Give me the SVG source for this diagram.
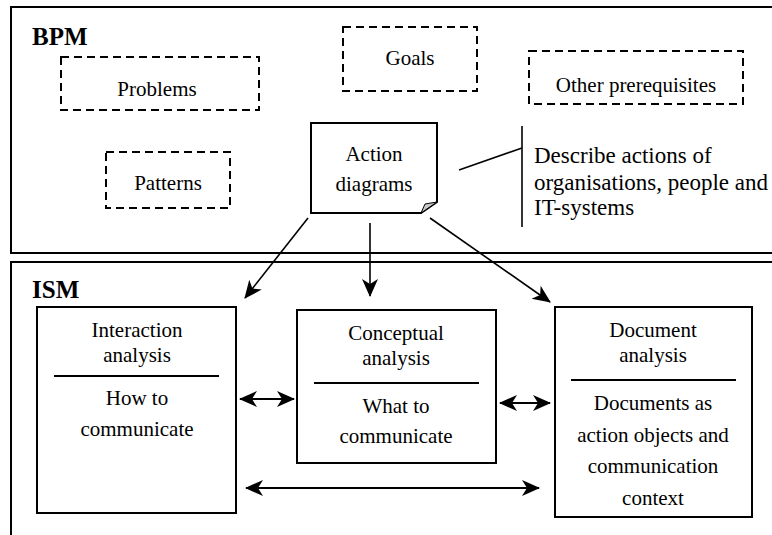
<svg xmlns="http://www.w3.org/2000/svg" width="772" height="535" viewBox="0 0 772 535">
<style>
text{font-family:"Liberation Serif","Times New Roman",serif;font-size:21px;fill:#000;text-anchor:middle}
.title{font-weight:bold;font-size:25px;text-anchor:start}
.desc{text-anchor:start;font-size:23px}
.frame{fill:none;stroke:#000;stroke-width:2}
.box{fill:#fff;stroke:#000;stroke-width:2}
.dash{fill:#fff;stroke:#000;stroke-width:2;stroke-dasharray:8 5}
.conn{fill:none;stroke:#000;stroke-width:1.6}
.arrow{fill:none;stroke:#000;stroke-width:2.2}
</style>
<defs>
<marker id="ah" markerUnits="userSpaceOnUse" markerWidth="20" markerHeight="18" refX="17" refY="8" orient="auto-start-reverse" viewBox="0 0 20 16">
<path d="M0,0 L18,8 L0,16 L5,8 Z" fill="#000"/>
</marker>
</defs>
<rect width="772" height="535" fill="#fff"/>
<g id="bpm-frame">
<rect class="frame" x="11" y="7" width="780" height="246"/>
<text class="title" x="32" y="45">BPM</text>
</g>
<g id="ism-frame">
<rect class="frame" x="11" y="262" width="780" height="300"/>
<text class="title" x="32" y="298">ISM</text>
</g>
<g id="problems">
<rect class="dash" x="61" y="57" width="198" height="53"/>
<text x="157" y="96">Problems</text>
</g>
<g id="goals">
<rect class="dash" x="343" y="27" width="134" height="64"/>
<text x="410" y="65">Goals</text>
</g>
<g id="other-prerequisites">
<rect class="dash" x="529" y="51" width="214" height="53"/>
<text x="636" y="92">Other prerequisites</text>
</g>
<g id="patterns">
<rect class="dash" x="106" y="152" width="124" height="56"/>
<text x="168" y="190">Patterns</text>
</g>
<g id="action-diagrams">
<path class="box" d="M311,123 H437 V202 L421,213 H311 Z"/>
<path d="M437,202 L421,213 L425,204 Z" fill="#c8c8c8" stroke="#000" stroke-width="1"/>
<text x="374" y="161">Action</text>
<text x="374" y="191">diagrams</text>
</g>
<g id="description">
<line class="conn" x1="522" y1="126" x2="522" y2="227"/>
<text class="desc" x="534" y="163">Describe actions of</text>
<text class="desc" x="534" y="190">organisations, people and</text>
<text class="desc" x="534" y="215">IT-systems</text>
</g>
<g id="interaction-analysis">
<rect class="box" x="37" y="307" width="199" height="206"/>
<text x="137" y="337">Interaction</text>
<text x="137" y="362">analysis</text>
<line x1="54" y1="376" x2="219" y2="376" stroke="#000" stroke-width="2"/>
<text x="137" y="405">How to</text>
<text x="137" y="436">communicate</text>
</g>
<g id="conceptual-analysis">
<rect class="box" x="297" y="310" width="199" height="153"/>
<text x="396" y="340">Conceptual</text>
<text x="396" y="365">analysis</text>
<line x1="314" y1="383" x2="479" y2="383" stroke="#000" stroke-width="2"/>
<text x="396" y="413">What to</text>
<text x="396" y="443">communicate</text>
</g>
<g id="document-analysis">
<rect class="box" x="555" y="307" width="197" height="210"/>
<text x="653" y="337">Document</text>
<text x="653" y="362">analysis</text>
<line x1="571" y1="380" x2="736" y2="380" stroke="#000" stroke-width="2"/>
<text x="653" y="410">Documents as</text>
<text x="653" y="442">action objects and</text>
<text x="653" y="473">communication</text>
<text x="653" y="505">context</text>
</g>
<g id="connectors">
<line class="conn" x1="459" y1="170" x2="522" y2="148"/>
<line class="conn" x1="308" y1="218" x2="245" y2="298" marker-end="url(#ah)"/>
<line class="conn" x1="370" y1="223" x2="370" y2="296" marker-end="url(#ah)"/>
<line class="conn" x1="430" y1="218" x2="550" y2="302" marker-end="url(#ah)"/>
<line class="arrow" x1="240" y1="399" x2="294" y2="399" marker-start="url(#ah)" marker-end="url(#ah)"/>
<line class="arrow" x1="500" y1="403" x2="550" y2="403" marker-start="url(#ah)" marker-end="url(#ah)"/>
<line class="arrow" x1="246" y1="488" x2="539" y2="488" marker-start="url(#ah)" marker-end="url(#ah)"/>
</g>
</svg>
